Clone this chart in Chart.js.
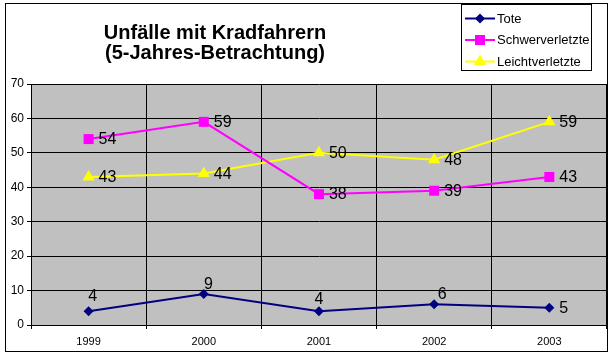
<!DOCTYPE html>
<html><head><meta charset="utf-8">
<script src="https://cdn.jsdelivr.net/npm/chart.js@4"></script>
<style>html,body{margin:0;padding:0;background:#fff}#wrap{width:614px;height:357px;position:relative}</style>
</head><body><div id="wrap"><canvas id="c" width="614" height="357"></canvas></div>
<script>
const categories = ['1999', '2000', '2001', '2002', '2003'];
const seriesNames = ['Tote', 'Schwerverletzte', 'Leichtverletzte'];
const tote = [4, 9, 4, 6, 5];
const schwerverletzte = [54, 59, 38, 39, 43];
const leichtverletzte = [43, 44, 50, 48, 59];
const yTicks = [0, 10, 20, 30, 40, 50, 60, 70];
const titleLines = ['Unfälle mit Kradfahrern', '(5-Jahres-Betrachtung)'];

const FONT = "'Liberation Sans', Arial, sans-serif";
Chart.defaults.font.family = FONT;
Chart.defaults.color = '#000';

const colors = ['#000080', '#FF00FF', '#FFFF00'];
const styles = ['rectRot', 'rect', 'triangle'];
const radii = [5, 7.07, 7];

function marker(ctx, style, x, y, r, color) {
  ctx.save();
  ctx.fillStyle = color;
  ctx.beginPath();
  if (style === 'rectRot') {
    ctx.moveTo(x, y - r); ctx.lineTo(x + r, y); ctx.lineTo(x, y + r); ctx.lineTo(x - r, y);
  } else if (style === 'rect') {
    const s = r * Math.SQRT1_2;
    ctx.rect(x - s, y - s, 2 * s, 2 * s);
  } else {
    const w = r * Math.sin(Math.PI / 3);
    ctx.moveTo(x, y - r); ctx.lineTo(x + w, y + r / 2); ctx.lineTo(x - w, y + r / 2);
  }
  ctx.closePath();
  ctx.fill();
  ctx.restore();
}

const decor = {
  id: 'decor',
  beforeDraw(chart) {
    const ctx = chart.ctx, a = chart.chartArea;
    ctx.save();
    ctx.fillStyle = '#fff';
    ctx.fillRect(0, 0, chart.width, chart.height);
    ctx.fillStyle = '#C0C0C0';
    ctx.fillRect(a.left, a.top, a.right - a.left, a.bottom - a.top);
    ctx.restore();
  },
  afterDatasetsDraw(chart, args, opts) {
    const ctx = chart.ctx;
    ctx.save();
    ctx.font = '16px ' + FONT;
    ctx.fillStyle = '#000';
    ctx.textBaseline = 'alphabetic';
    chart.data.datasets.forEach((ds, di) => {
      const meta = chart.getDatasetMeta(di);
      const pl = opts.placements[di] || [];
      meta.data.forEach((p, i) => {
        const txt = String(ds.data[i]);
        const o = pl[i];
        if (o && o.a === 'c') {
          ctx.textAlign = 'center';
          ctx.fillText(txt, p.x + o.dx, p.y + o.dy);
        } else {
          ctx.textAlign = 'left';
          ctx.fillText(txt, p.x + 10, p.y + 5);
        }
      });
    });
    ctx.restore();
  },
  afterDraw(chart) {
    const ctx = chart.ctx;
    ctx.save();
    // title
    ctx.font = 'bold 20px ' + FONT;
    ctx.fillStyle = '#000';
    ctx.textAlign = 'center';
    ctx.textBaseline = 'alphabetic';
    ctx.fillText(titleLines[0], 215, 39);
    ctx.fillText(titleLines[1], 215, 59);
    // legend
    ctx.fillStyle = '#fff';
    ctx.fillRect(461.5, 4.5, 130, 66);
    ctx.strokeStyle = '#000';
    ctx.lineWidth = 1;
    ctx.strokeRect(461.5, 4.5, 130, 66);
    const rows = [18.5, 40, 61.5];
    chart.data.datasets.forEach((ds, i) => {
      const y = rows[i];
      ctx.strokeStyle = colors[i];
      ctx.lineWidth = 2;
      ctx.beginPath();
      ctx.moveTo(465, y); ctx.lineTo(495, y);
      ctx.stroke();
      marker(ctx, styles[i], 480, y, radii[i], colors[i]);
      ctx.fillStyle = '#000';
      ctx.font = '13px ' + FONT;
      ctx.textAlign = 'left';
      ctx.textBaseline = 'middle';
      ctx.fillText(ds.label, 497, y + 0.5);
    });
    // outer border
    ctx.strokeStyle = '#000';
    ctx.lineWidth = 1;
    ctx.strokeRect(5.5, 3.5, 602, 348);
    ctx.restore();
  }
};

const seriesData = [tote, schwerverletzte, leichtverletzte];

new Chart(document.getElementById('c'), {
  type: 'line',
  data: {
    labels: categories,
    datasets: seriesNames.map((n, i) => ({
      label: n,
      data: seriesData[i],
      borderColor: colors[i],
      backgroundColor: colors[i],
      borderWidth: 2,
      pointStyle: styles[i],
      pointRadius: radii[i],
      pointBorderWidth: 0,
      pointBackgroundColor: colors[i],
      tension: 0,
      fill: false
    }))
  },
  options: {
    responsive: false,
    devicePixelRatio: 1,
    animation: false,
    layout: { padding: { top: 84, right: 7, left: 0, bottom: 0 } },
    plugins: {
      legend: { display: false },
      title: { display: false },
      tooltip: { enabled: false },
      decor: {
        placements: [
          [{ a: 'c', dx: 4, dy: -10.5 }, { a: 'c', dx: 4.7, dy: -5.3 }, { a: 'c', dx: 0, dy: -7 }, { a: 'c', dx: 8, dy: -5 }, { a: 'r' }],
          [], []
        ]
      }
    },
    scales: {
      x: {
        type: 'category',
        offset: true,
        grid: { offset: true, color: '#000', lineWidth: 1, tickLength: 4, drawTicks: true },
        border: { display: true, color: '#000', width: 1 },
        ticks: { font: { size: 11 }, color: '#000', padding: 6, maxRotation: 0 },
        afterFit(s) { s.height = 32; }
      },
      y: {
        min: yTicks[0],
        max: yTicks[yTicks.length - 1],
        afterBuildTicks(s) { s.ticks = yTicks.map(v => ({ value: v })); },
        grid: { color: '#000', lineWidth: 1, tickLength: 4, drawTicks: true },
        border: { display: true, color: '#000', width: 1 },
        ticks: { font: { size: 12 }, color: '#000', padding: 3 },
        afterFit(s) { s.width = 31; }
      }
    }
  },
  plugins: [decor]
});
</script>
</body></html>
